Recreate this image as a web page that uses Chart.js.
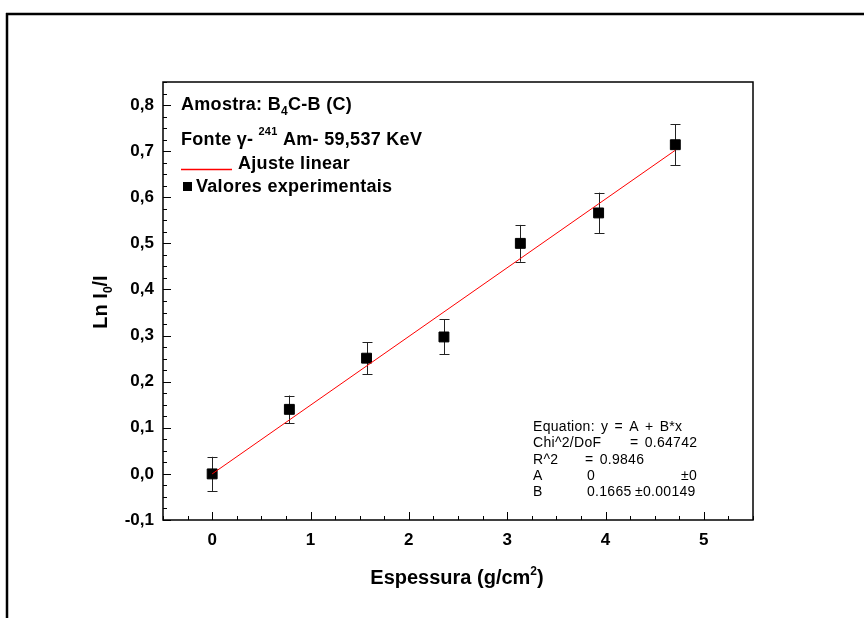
<!DOCTYPE html>
<html><head><meta charset="utf-8">
<script src="https://cdn.jsdelivr.net/npm/chart.js@4/dist/chart.umd.min.js"></script>
<style>html,body{margin:0;padding:0;background:#fff}canvas{display:block}</style>
</head><body>
<canvas id="c" width="864" height="618"></canvas>
<script>
// ---- data ----
const thickness = [0, 0.785, 1.57, 2.357, 3.134, 3.93, 4.71];      // g/cm^2
const lnRatio   = [0.000, 0.140, 0.251, 0.297, 0.500, 0.566, 0.714]; // Ln I0/I
const lnError   = [0.037, 0.030, 0.035, 0.038, 0.040, 0.044, 0.044];
const fitX = [0, 4.71];
const fitY = [0, 0.702];
const xTicks = [0, 1, 2, 3, 4, 5];
const xTickLabels = ['0', '1', '2', '3', '4', '5'];
const yTicks = [-0.1, 0, 0.1, 0.2, 0.3, 0.4, 0.5, 0.6, 0.7, 0.8];
const yTickLabels = ['-0,1', '0,0', '0,1', '0,2', '0,3', '0,4', '0,5', '0,6', '0,7', '0,8'];
const fitInfo = [
  ['Equation: y = A + B*x'],
  ['Chi^2/DoF', '= 0.64742'],
  ['R^2', '= 0.9846'],
  ['A', '0', '\u00b10'],
  ['B', '0.1665', '\u00b10.00149']
];

const FONT = '"Liberation Sans", Arial, sans-serif';

function rich(ctx, x, y, parts) {
  for (const p of parts) {
    ctx.font = p.f;
    ctx.fillText(p.t, x, y + (p.dy || 0));
    x += ctx.measureText(p.t).width + (p.gap || 0);
  }
  return x;
}

const decor = {
  id: 'decor',
  beforeDraw(chart) {
    const ctx = chart.ctx;
    ctx.save();
    ctx.fillStyle = '#fff';
    ctx.fillRect(0, 0, chart.width, chart.height);
    ctx.restore();
  },
  beforeDatasetsDraw(chart) {
    const ctx = chart.ctx, xs = chart.scales.x, ys = chart.scales.y;
    ctx.save();
    ctx.strokeStyle = '#222';
    ctx.lineWidth = 1;
    for (let i = 0; i < thickness.length; i++) {
      const px = Math.round(xs.getPixelForValue(thickness[i])) + 0.5;
      const y1 = ys.getPixelForValue(lnRatio[i] + lnError[i]);
      const y2 = ys.getPixelForValue(lnRatio[i] - lnError[i]);
      ctx.beginPath();
      ctx.moveTo(px, y1); ctx.lineTo(px, y2);
      ctx.moveTo(px - 5, Math.round(y1) + 0.5); ctx.lineTo(px + 5, Math.round(y1) + 0.5);
      ctx.moveTo(px - 5, Math.round(y2) + 0.5); ctx.lineTo(px + 5, Math.round(y2) + 0.5);
      ctx.stroke();
    }
    ctx.restore();
  },
  afterDraw(chart) {
    const ctx = chart.ctx, a = chart.chartArea, xs = chart.scales.x, ys = chart.scales.y;
    ctx.save();
    // plot box
    ctx.strokeStyle = '#000';
    ctx.lineWidth = 1.5;
    ctx.strokeRect(a.left, a.top, a.right - a.left, a.bottom - a.top);
    // inward ticks
    ctx.lineWidth = 1;
    ctx.beginPath();
    for (let v = -0.5; v <= 5.5001; v += 0.25) {
      const px = Math.round(xs.getPixelForValue(v)) + 0.5;
      const major = Math.abs(v - Math.round(v)) < 1e-6;
      ctx.moveTo(px, a.bottom); ctx.lineTo(px, a.bottom - (major ? 8 : 4));
    }
    for (let k = 0; k <= 38; k++) {
      const v = -0.1 + k * 0.025;
      const py = Math.round(ys.getPixelForValue(v)) + 0.5;
      const major = k % 4 === 0;
      ctx.moveTo(a.left, py); ctx.lineTo(a.left + (major ? 8 : 4), py);
    }
    ctx.stroke();
    // outer frame (top and left)
    ctx.lineWidth = 2.5;
    ctx.beginPath();
    ctx.moveTo(6, 14); ctx.lineTo(864, 14);
    ctx.moveTo(7, 13); ctx.lineTo(7, 618);
    ctx.stroke();

    ctx.fillStyle = '#000';
    ctx.textBaseline = 'alphabetic';
    ctx.textAlign = 'left';
    const B = s => 'bold ' + s + 'px ' + FONT;
    // legend block
    ctx.letterSpacing = '0.3px';
    rich(ctx, 181, 110, [{t: 'Amostra: B', f: B(18)}, {t: '4', f: B(12), dy: 5}, {t: 'C-B (C)', f: B(18)}]);
    rich(ctx, 181, 145, [{t: 'Fonte \u03b3-', f: B(18), gap: 5}, {t: '241', f: B(11), dy: -10, gap: 0}, {t: ' Am- 59,537 KeV', f: B(18)}]);
    ctx.strokeStyle = '#ff0000';
    ctx.lineWidth = 1.5;
    ctx.beginPath(); ctx.moveTo(181, 169.5); ctx.lineTo(232, 169.5); ctx.stroke();
    rich(ctx, 238, 169, [{t: 'Ajuste linear', f: B(18)}]);
    ctx.fillRect(183, 182, 9, 9);
    rich(ctx, 196, 192, [{t: 'Valores experimentais', f: B(18)}]);

    // fit info
    ctx.letterSpacing = '0.3px';
    ctx.wordSpacing = '2px';
    const base = [431, 447, 463.5, 480, 496];
    ctx.font = '14px ' + FONT;
    fitInfo.forEach((row, r) => {
      ctx.fillText(row[0], 533, base[r]);
      if (r === 1) ctx.fillText(row[1], 630, base[r]);
      if (r === 2) ctx.fillText(row[1], 585, base[r]);
      if (r === 3) { ctx.fillText(row[1], 587, base[r]); ctx.fillText(row[2], 681, base[r]); }
      if (r === 4) { ctx.fillText(row[1], 587, base[r]); ctx.fillText(row[2], 635, base[r]); }
    });
    ctx.letterSpacing = '0px';
    ctx.wordSpacing = '0px';

    // axis titles
    const xParts = [{t: 'Espessura (g/cm', f: B(20)}, {t: '2', f: B(12), dy: -9}, {t: ')', f: B(20)}];
    let w = 0;
    xParts.forEach(p => { ctx.font = p.f; w += ctx.measureText(p.t).width; });
    rich(ctx, 457 - w / 2, 584, xParts);

    const yParts = [{t: 'Ln I', f: B(20)}, {t: '0', f: B(12), dy: 5}, {t: '/I', f: B(20)}];
    w = 0;
    yParts.forEach(p => { ctx.font = p.f; w += ctx.measureText(p.t).width; });
    ctx.translate(107, 302);
    ctx.rotate(-Math.PI / 2);
    rich(ctx, -w / 2, 0, yParts);
    ctx.restore();
  }
};

new Chart(document.getElementById('c'), {
  type: 'scatter',
  data: {
    datasets: [
      {
        type: 'line',
        label: 'Ajuste linear',
        data: fitX.map((x, i) => ({x, y: fitY[i]})),
        borderColor: '#ff0000',
        borderWidth: 1,
        pointRadius: 0,
        fill: false,
        order: 0
      },
      {
        label: 'Valores experimentais',
        data: thickness.map((x, i) => ({x, y: lnRatio[i]})),
        pointStyle: 'rect',
        pointRadius: 7,
        backgroundColor: '#000',
        borderColor: '#000',
        borderWidth: 1,
        order: 1
      }
    ]
  },
  options: {
    responsive: false,
    animation: false,
    devicePixelRatio: 1,
    layout: {padding: {left: 0, top: 82, right: 111, bottom: 0}},
    plugins: {legend: {display: false}, tooltip: {enabled: false}},
    scales: {
      x: {
        type: 'linear', min: -0.5, max: 5.5,
        grid: {display: false, drawTicks: false},
        border: {display: false},
        afterBuildTicks: s => { s.ticks = xTicks.map(v => ({value: v})); },
        afterFit: s => { s.height = 98; },
        ticks: {
          color: '#000', padding: 10, maxRotation: 0,
          font: {family: FONT, size: 17, weight: 'bold'},
          callback: (v, i) => xTickLabels[i]
        }
      },
      y: {
        type: 'linear', min: -0.1, max: 0.85,
        grid: {display: false, drawTicks: false},
        border: {display: false},
        afterBuildTicks: s => { s.ticks = yTicks.map(v => ({value: v})); },
        afterFit: s => { s.width = 163; },
        ticks: {
          color: '#000', padding: 9,
          font: {family: FONT, size: 17, weight: 'bold'},
          callback: (v, i) => yTickLabels[i]
        }
      }
    }
  },
  plugins: [decor]
});
</script>
</body></html>
